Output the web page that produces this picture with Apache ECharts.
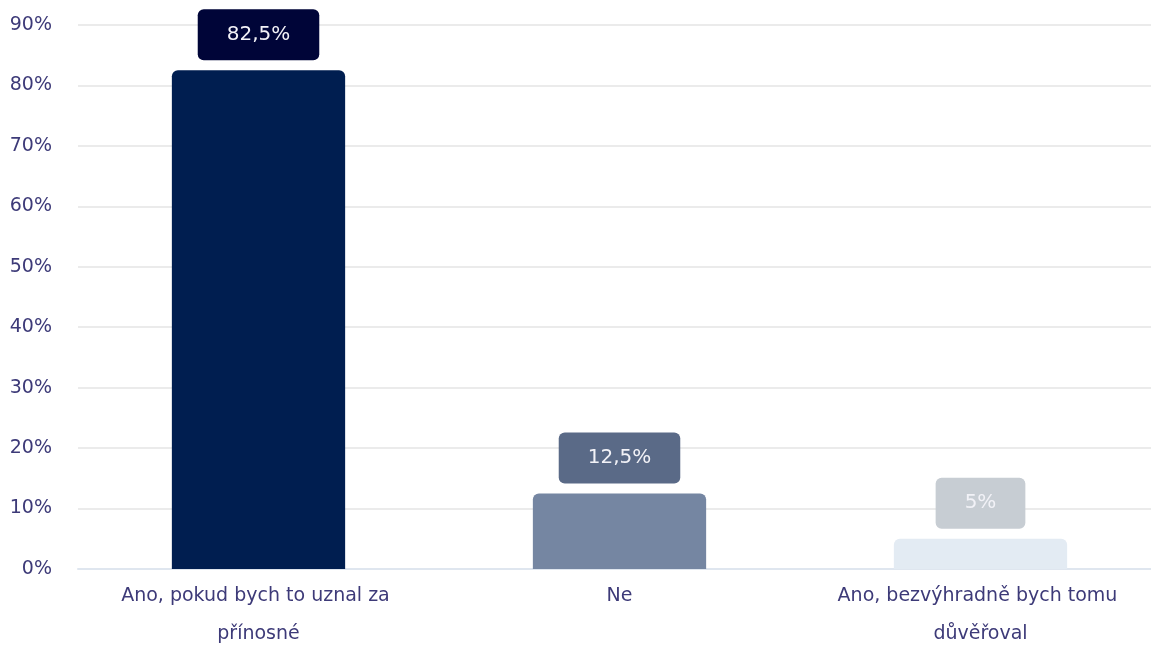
<!DOCTYPE html>
<html>
<head>
<meta charset="utf-8">
<script src="https://cdn.jsdelivr.net/npm/echarts@6/dist/echarts.min.js"></script>
<style>
  html, body { margin: 0; padding: 0; background: #ffffff; }
  #chart { width: 1151px; height: 645px; }
</style>
</head>
<body>
<div id="chart"></div>
<script>
// Answer categories and their shares (percent)
const categories = [
  'Ano, pokud bych to uznal za přínosné',
  'Ne',
  'Ano, bezvýhradně bych tomu důvěřoval'
];
const values = [82.5, 12.5, 5];
const valueLabels = ['82,5%', '12,5%', '5%'];
const yTicks = [0, 10, 20, 30, 40, 50, 60, 70, 80, 90];

// Bar fill and label-box colours per category
const barColors = ['#001e50', '#7586a2', '#e3ebf3'];
const labelColors = ['#000538', '#5a6a87', '#c7cdd3'];

const axisTextColor = '#3d3a78';
const fontFamily = '"DejaVu Sans", sans-serif';

const chart = echarts.init(document.getElementById('chart'));

chart.setOption({
  animation: false,
  grid: { left: 78, right: -10, top: 25, bottom: 76, containLabel: false, outerBoundsMode: 'none' },
  xAxis: {
    type: 'category',
    data: categories,
    axisTick: { show: false },
    axisLine: { lineStyle: { color: '#dfe6ef', width: 2 } },
    axisLabel: {
      color: axisTextColor,
      fontSize: 19,
      fontFamily: fontFamily,
      lineHeight: 38,
      margin: 8,
      width: 310,
      overflow: 'break',
      interval: 0
    }
  },
  yAxis: {
    type: 'value',
    min: 0,
    max: 90,
    interval: 10,
    axisLine: { show: false },
    axisTick: { show: false },
    splitLine: { lineStyle: { color: '#ebebeb', width: 2 } },
    axisLabel: {
      color: axisTextColor,
      fontSize: 19,
      fontFamily: fontFamily,
      margin: 26,
      formatter: function (v) { return yTicks.indexOf(v) >= 0 ? v + '%' : ''; }
    }
  },
  series: [{
    type: 'bar',
    barWidth: '48%',
    data: values.map(function (v, i) {
      return {
        value: v,
        itemStyle: { color: barColors[i], borderRadius: [6, 6, 0, 0] },
        label: {
          show: true,
          position: 'top',
          distance: 10,
          formatter: valueLabels[i],
          color: '#f2f2f7',
          fontSize: 20,
          fontFamily: fontFamily,
          lineHeight: 21,
          backgroundColor: labelColors[i],
          borderRadius: 6,
          padding: [15, 29, 15, 29]
        }
      };
    })
  }]
});
</script>
</body>
</html>
